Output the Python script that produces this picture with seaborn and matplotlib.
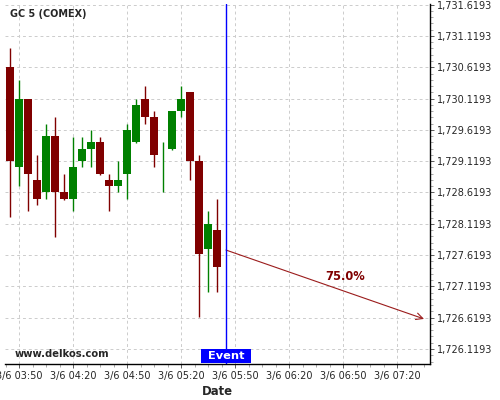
import pandas as pd
import numpy as np
import matplotlib
matplotlib.use("Agg")
import matplotlib.pyplot as plt
import matplotlib.dates as mdates
from matplotlib.ticker import MultipleLocator, AutoMinorLocator, FuncFormatter
import seaborn as sns

# 5-minute candles, GC 5 (COMEX)
times = pd.date_range("2020-03-06 03:45", periods=24, freq="5min")
opens = [1730.63, 1729.03, 1730.11, 1728.82, 1728.63, 1729.52, 1728.63, 1728.52,
         1729.13, 1729.31, 1729.43, 1728.82, 1728.72, 1728.92, 1729.43, 1730.11,
         1729.83, 1729.23, 1729.31, 1729.92, 1730.23, 1729.13, 1727.72, 1728.02]
highs = [1730.92, 1730.41, 1730.11, 1729.22, 1729.71, 1729.82, 1728.92, 1729.51,
         1729.51, 1729.62, 1729.51, 1728.92, 1729.12, 1729.71, 1730.11, 1730.32,
         1729.92, 1729.42, 1729.92, 1730.32, 1730.23, 1729.22, 1728.32, 1728.52]
lows = [1728.22, 1728.72, 1728.32, 1728.42, 1728.52, 1727.91, 1728.50, 1728.32,
        1729.02, 1729.02, 1728.90, 1728.32, 1728.62, 1728.52, 1729.41, 1729.71,
        1729.02, 1728.62, 1729.30, 1729.82, 1728.82, 1726.63, 1727.03, 1727.03]
closes = [1729.13, 1730.11, 1728.92, 1728.52, 1729.52, 1728.63, 1728.52, 1729.03,
          1729.31, 1729.43, 1728.92, 1728.72, 1728.82, 1729.62, 1730.02, 1729.83,
          1729.22, 1729.23, 1729.92, 1730.11, 1729.13, 1727.63, 1728.12, 1727.43]

event_time = pd.Timestamp("2020-03-06 05:45")
event_price = 1727.70
target_time = pd.Timestamp("2020-03-06 07:35")
target_price = 1726.60
prob_label = "75.0%"

df = pd.DataFrame({"time": times, "open": opens, "high": highs,
                   "low": lows, "close": closes})
df["up"] = df["close"] >= df["open"]

sns.set_theme(style="white")
plt.rcParams["font.family"] = ["DejaVu Sans"]

fig = plt.figure(figsize=(5, 4), dpi=100)
ax = fig.add_axes([0.01, 0.09, 0.85, 0.90])

green, red = "#008000", "#800000"
colors = np.where(df["up"], green, red)
x = mdates.date2num(df["time"])

# wicks and bodies
ax.vlines(x, df["low"], df["high"], colors=colors, linewidth=1, zorder=2)
body_lo = np.minimum(df["open"], df["close"])
body_h = np.maximum((df["close"] - df["open"]).abs(), 0.012)
ax.bar(x, body_h, bottom=body_lo, width=3.9 / 1440, color=colors,
       linewidth=0, zorder=3)

# event line and projected move
ev = mdates.date2num(event_time)
ax.axvline(ev, color="#0000ff", linewidth=1, zorder=4)
ax.annotate("", xy=(mdates.date2num(target_time), target_price),
            xytext=(ev, event_price),
            arrowprops=dict(arrowstyle="->", color="#9b1c1c", lw=0.8,
                            mutation_scale=12, shrinkA=0, shrinkB=0))
ax.text(mdates.date2num(pd.Timestamp("2020-03-06 06:51")), 1727.27, prob_label,
        color="#800000", fontsize=8.3, fontweight="bold", ha="center", va="center")

ax.text(ev, 1725.88 + 0.13, " Event ", color="white", fontsize=8.2,
        fontweight="bold", ha="center", va="center", zorder=5,
        bbox=dict(boxstyle="square,pad=0.2", fc="#0000ff", ec="none"))

ax.text(0.012, 0.972, "GC 5 (COMEX)", transform=ax.transAxes, fontsize=6.9,
        fontweight="bold", ha="left", va="center")
ax.text(0.023, 0.029, "www.delkos.com", transform=ax.transAxes, fontsize=7.2,
        fontweight="bold", ha="left", va="center")

ax.set_xlim(mdates.date2num(pd.Timestamp("2020-03-06 03:42:13")),
            mdates.date2num(pd.Timestamp("2020-03-06 07:38:20")))
ax.set_ylim(1725.88, 1731.63)

ax.xaxis.set_major_locator(mdates.MinuteLocator(byminute=[20, 50]))
ax.xaxis.set_minor_locator(AutoMinorLocator(4))
ax.xaxis.set_major_formatter(FuncFormatter(
    lambda v, p: (lambda d: f"{d.month}/{d.day} {d:%H:%M}")(mdates.num2date(v))))

ax.yaxis.tick_right()
ax.yaxis.set_major_locator(MultipleLocator(0.5, offset=0.1193))
ax.yaxis.set_minor_locator(MultipleLocator(0.1, offset=0.0193))
ax.yaxis.set_major_formatter(FuncFormatter(lambda v, p: f"{v:,.4f}"))

ax.tick_params(axis="both", which="major", labelsize=7, length=3, width=0.6,
               color="#444444", direction="out", pad=2)
ax.tick_params(axis="both", which="minor", length=2, width=0.5,
               color="#888888", direction="out")
ax.tick_params(axis="x", which="both", bottom=True)
ax.tick_params(axis="y", which="both", right=True, left=False)

ax.grid(True, which="major", color="#cccccc", linestyle=(0, (3, 3)), linewidth=0.7)
ax.set_axisbelow(True)

for side in ["top", "left"]:
    ax.spines[side].set_visible(False)
for side in ["bottom", "right"]:
    ax.spines[side].set_color("black")
    ax.spines[side].set_linewidth(1)

ax.set_xlabel("Date", fontsize=8.4, fontweight="bold", labelpad=3)
ax.set_ylabel("")

fig.savefig("out.png", dpi=100)
